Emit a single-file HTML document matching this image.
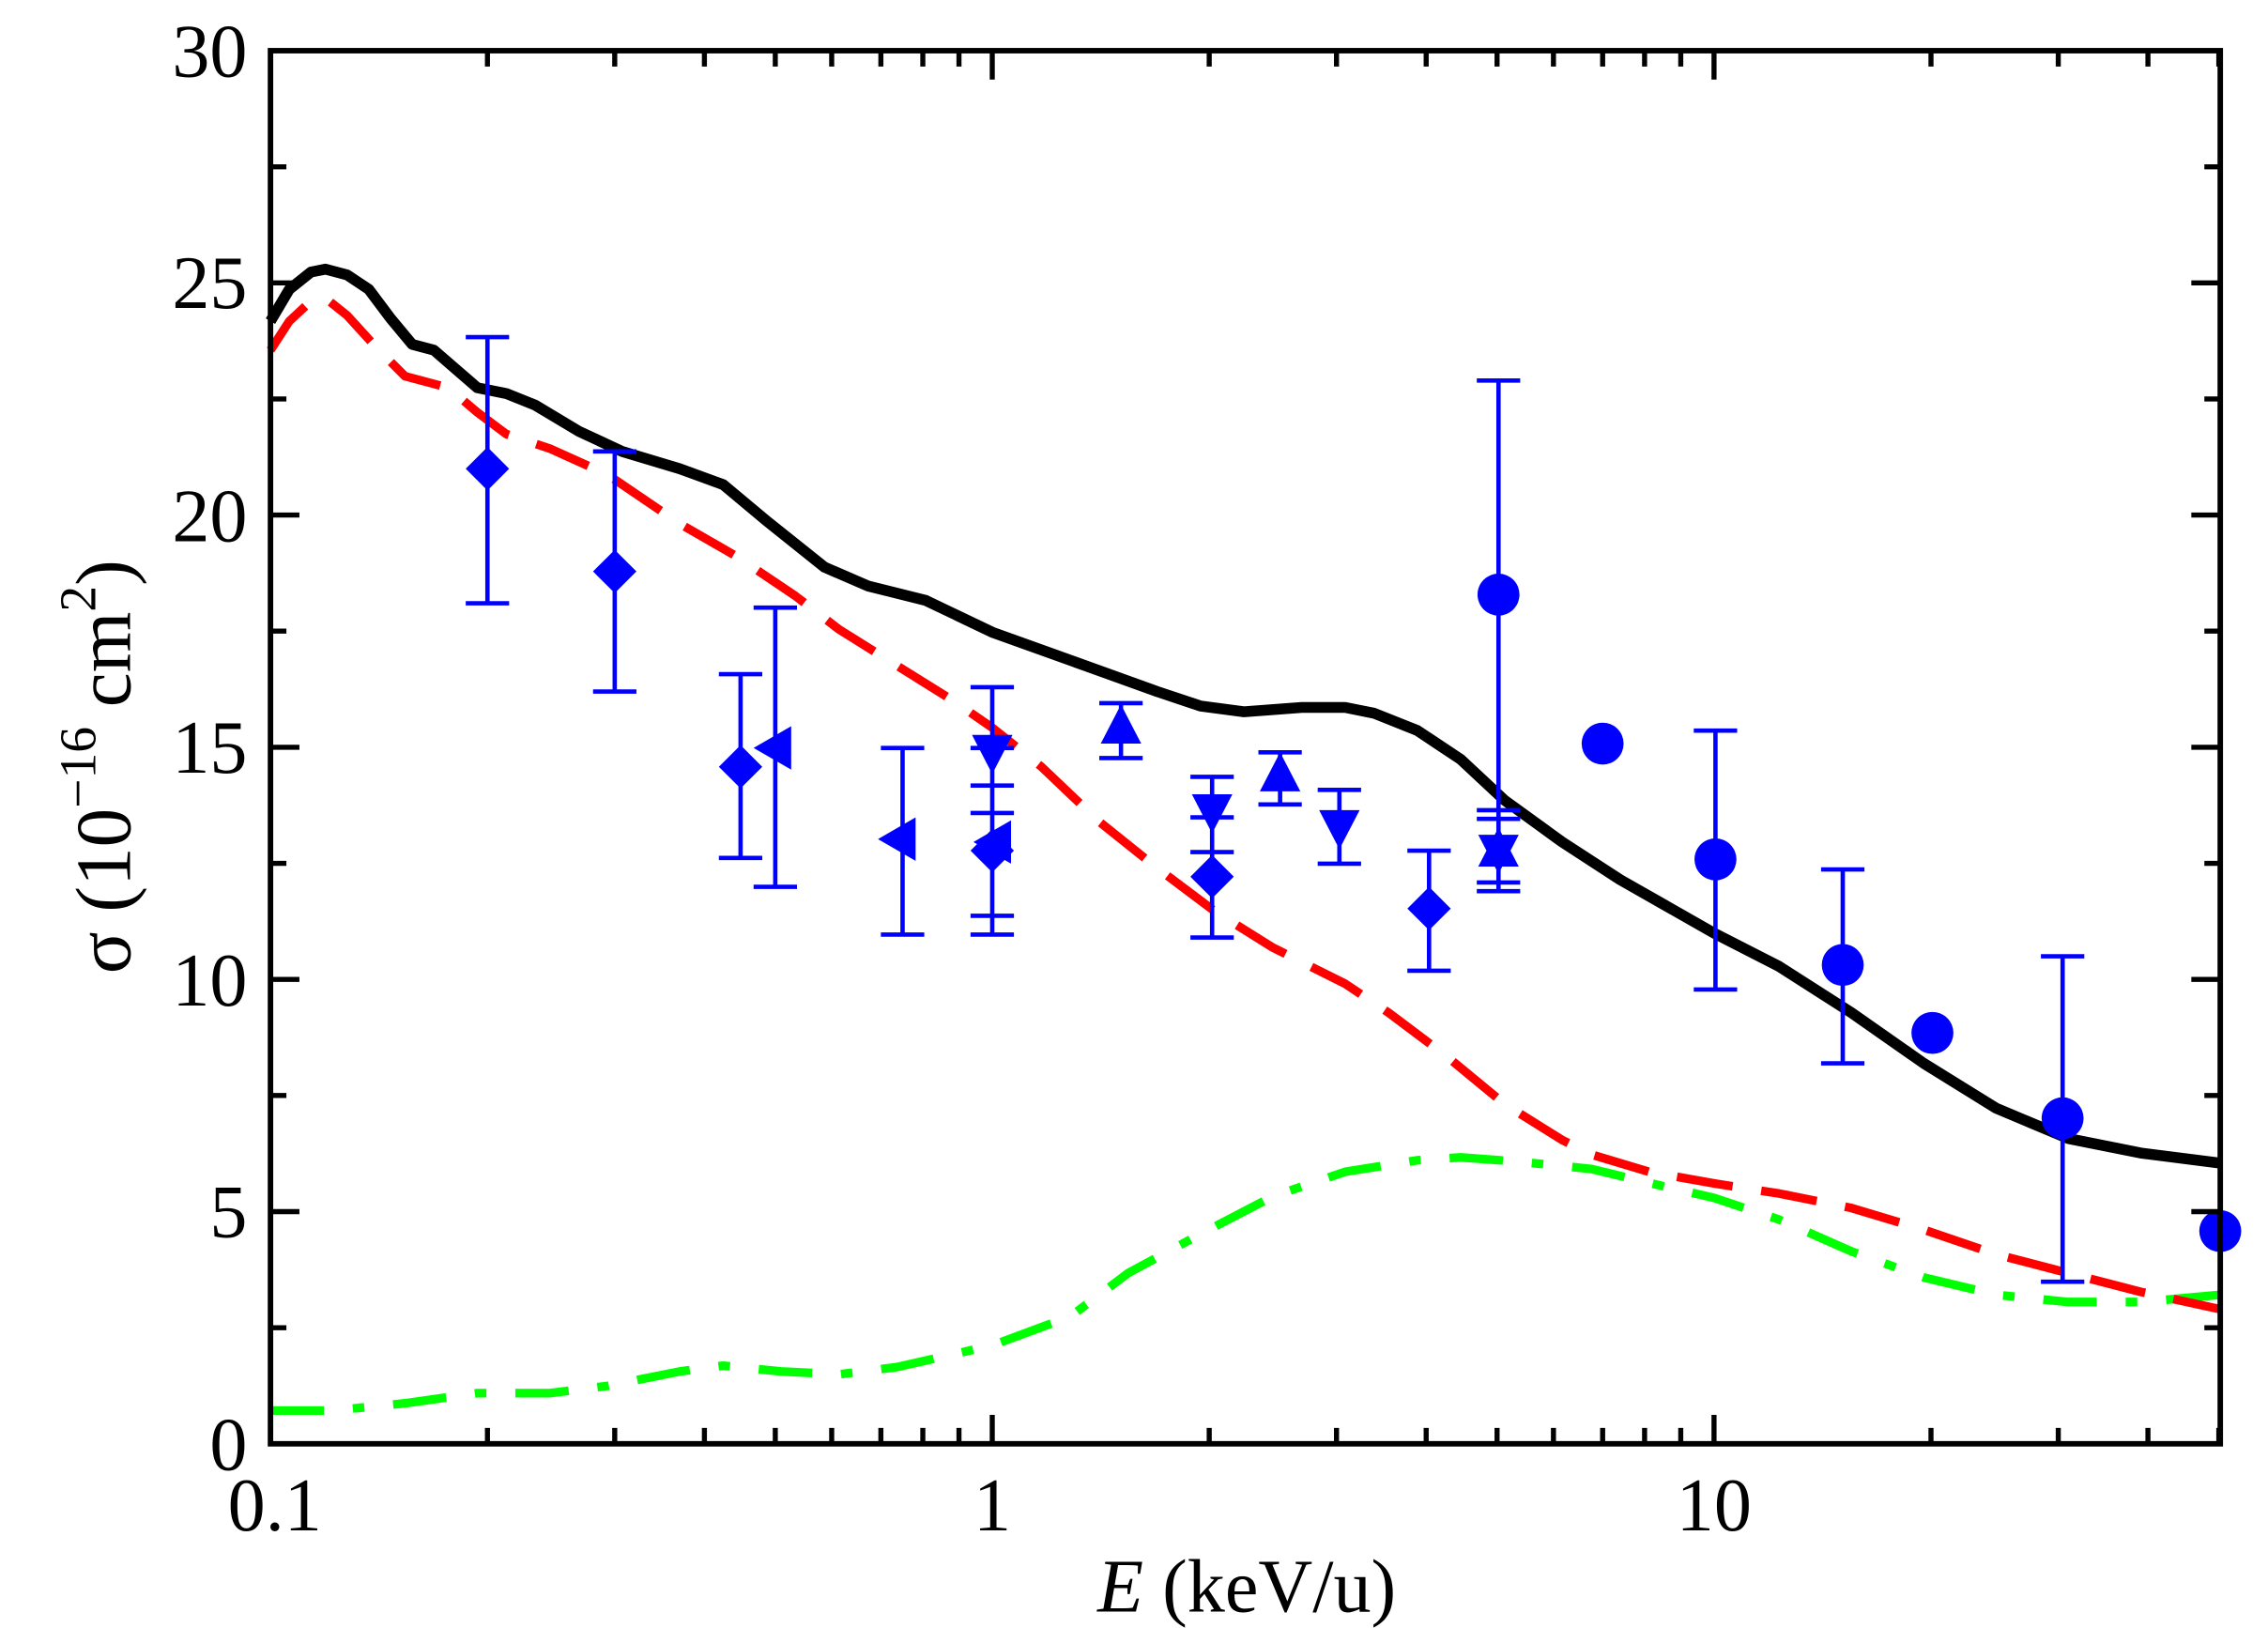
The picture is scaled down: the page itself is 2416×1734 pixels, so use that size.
<!DOCTYPE html>
<html><head><meta charset="utf-8"><style>
html,body{margin:0;padding:0;background:#fff;}
svg{display:block;}
text{font-family:"Liberation Serif",serif;fill:#000;}
</style></head><body>
<svg width="2416" height="1734" viewBox="0 0 1568 1125.3" xmlns="http://www.w3.org/2000/svg">
<rect x="0" y="0" width="1568" height="1125.3" fill="#fff"/>
<g fill="none" stroke-linejoin="round" stroke-linecap="butt">
<path stroke="#00ff00" stroke-width="6" stroke-dasharray="37 20 8 20" d="M187,975 L230,975 L280,970 L330,963 L380,963 L420,958 L470,948 L500,944 L540,948 L580,950 L620,945 L686,930 L740,910 L780,880 L830,853 L880,827 L930,810 L980,802 L1010,800 L1050,803 L1100,808 L1150,820 L1185,828 L1230,843 L1280,865 L1330,883 L1380,895 L1430,900 L1480,900 L1535,895"/>
<path stroke="#ff0000" stroke-width="6" stroke-dasharray="39 20" d="M187,242 L200,222 L215,208 L225,206 L240,218 L260,240 L280,260 L310,268 L330,285 L350,300 L380,310 L420,328 L470,362 L510,385 L550,412 L580,435 L620,460 L660,485 L686,503 L720,530 L760,568 L800,600 L840,630 L880,655 L930,680 L960,700 L1000,730 L1040,763 L1080,788 L1100,798 L1140,810 L1185,818 L1230,825 L1280,835 L1330,850 L1380,867 L1430,880 L1480,893 L1535,905"/>
<path stroke="#000" stroke-width="7.5" d="M187,222 L200,200 L215,188 L225,186 L240,190 L255,200 L270,220 L285,238 L300,242 L315,255 L330,268 L350,272 L370,280 L400,298 L430,312 L470,324 L500,335 L530,360 L570,392 L600,405 L640,415 L686,437 L750,460 L800,478 L830,488 L860,492 L900,489 L930,489 L950,493 L980,505 L1010,525 L1040,553 L1080,582 L1120,608 L1185,645 L1230,668 L1280,700 L1330,735 L1380,766 L1430,787 L1480,797 L1535,804"/>
</g>
<g stroke="#0000ff" stroke-width="3" fill="none">
<path d="M337,233V417M322,233H352M322,417H352"/>
<path d="M425,312V478M410,312H440M410,478H440"/>
<path d="M512,466V593M497,466H527M497,593H527"/>
<path d="M536,420V613M521,420H551M521,613H551"/>
<path d="M624,517V646M609,517H639M609,646H639"/>
<path d="M686,475V646M671,475H701M671,517H701M671,543H701M671,562H701M671,633H701M671,646H701"/>
<path d="M775,486V524M760,486H790M760,524H790"/>
<path d="M838,537V648M823,537H853M823,565H853M823,589H853M823,648H853"/>
<path d="M885,520V556M870,520H900M870,556H900"/>
<path d="M926,546V597M911,546H941M911,597H941"/>
<path d="M988,588V671M973,588H1003M973,671H1003"/>
<path d="M1036,263V616M1021,263H1051M1021,560H1051M1021,566H1051M1021,610H1051M1021,616H1051"/>
<path d="M1186,505V684M1171,505H1201M1171,684H1201"/>
<path d="M1274,601V735M1259,601H1289M1259,735H1289"/>
<path d="M1426,661V886M1411,661H1441M1411,886H1441"/>
</g>
<g fill="#0000ff">
<polygon points="337,309 352,324 337,339 322,324"/>
<polygon points="425,380 440,395 425,410 410,395"/>
<polygon points="512,515 527,530 512,545 497,530"/>
<polygon points="686,573 701,588 686,603 671,588"/>
<polygon points="838,591 853,606 838,621 823,606"/>
<polygon points="988,613 1003,628 988,643 973,628"/>
<polygon points="521,517 547,502 547,532"/>
<polygon points="607,580 633,565 633,595"/>
<polygon points="673,582 699,567 699,597"/>
<polygon points="672,508 700,508 686,535"/>
<polygon points="824,549 852,549 838,576"/>
<polygon points="912,560 940,560 926,587"/>
<polygon points="1022,577 1050,577 1036,604"/>
<polygon points="761,514 789,514 775,487"/>
<polygon points="871,547 899,547 885,520"/>
<polygon points="1022,599 1050,599 1036,572"/>
<circle cx="1036" cy="411" r="14.5"/>
<circle cx="1108" cy="514" r="14.5"/>
<circle cx="1186" cy="594" r="14.5"/>
<circle cx="1274" cy="667" r="14.5"/>
<circle cx="1336" cy="714" r="14.5"/>
<circle cx="1426" cy="773" r="14.5"/>
<circle cx="1535" cy="851" r="14.5"/>
</g>
<rect x="187" y="35" width="1348" height="963" fill="none" stroke="#000" stroke-width="3.8"/>
<g stroke="#000" stroke-width="3.5">
<path d="M187,837.5h20M187,677h20M187,516.5h20M187,356h20M187,195.5h20M1535,837.5h-20M1535,677h-20M1535,516.5h-20M1535,356h-20M1535,195.5h-20"/>
<path d="M187,917.75h11M187,757.25h11M187,596.75h11M187,436.25h11M187,275.75h11M187,115.25h11M1535,917.75h-11M1535,757.25h-11M1535,596.75h-11M1535,436.25h-11M1535,275.75h-11M1535,115.25h-11"/>
<path d="M686,998v-20M1185,998v-20M686,35v20M1185,35v20"/>
<path d="M337,998v-11M425,998v-11M487,998v-11M536,998v-11M575,998v-11M609,998v-11M638,998v-11M663,998v-11M836,998v-11M924,998v-11M986,998v-11M1035,998v-11M1074,998v-11M1108,998v-11M1137,998v-11M1162,998v-11M1335,998v-11M1423,998v-11M1485,998v-11M1534,998v-11"/>
<path d="M337,35v11M425,35v11M487,35v11M536,35v11M575,35v11M609,35v11M638,35v11M663,35v11M836,35v11M924,35v11M986,35v11M1035,35v11M1074,35v11M1108,35v11M1137,35v11M1162,35v11M1335,35v11M1423,35v11M1485,35v11M1534,35v11"/>
</g>
<g font-size="52" text-anchor="end">
<text x="171" y="1016">0</text>
<text x="171" y="855">5</text>
<text x="171" y="695">10</text>
<text x="171" y="534">15</text>
<text x="171" y="374">20</text>
<text x="171" y="213">25</text>
<text x="171" y="53">30</text>
</g>
<g font-size="52" text-anchor="middle">
<text x="190" y="1058">0.1</text>
<text x="686" y="1058">1</text>
<text x="1185" y="1058">10</text>
<text x="862" y="1114"><tspan font-style="italic">E</tspan> (keV/u)</text>
</g>
<text transform="translate(90,530) rotate(-90)" font-size="54" text-anchor="middle">σ (10<tspan font-size="36" dy="-24">−16</tspan><tspan dy="24"> cm</tspan><tspan font-size="36" dy="-24">2</tspan><tspan dy="24">)</tspan></text>
</svg>
</body></html>
